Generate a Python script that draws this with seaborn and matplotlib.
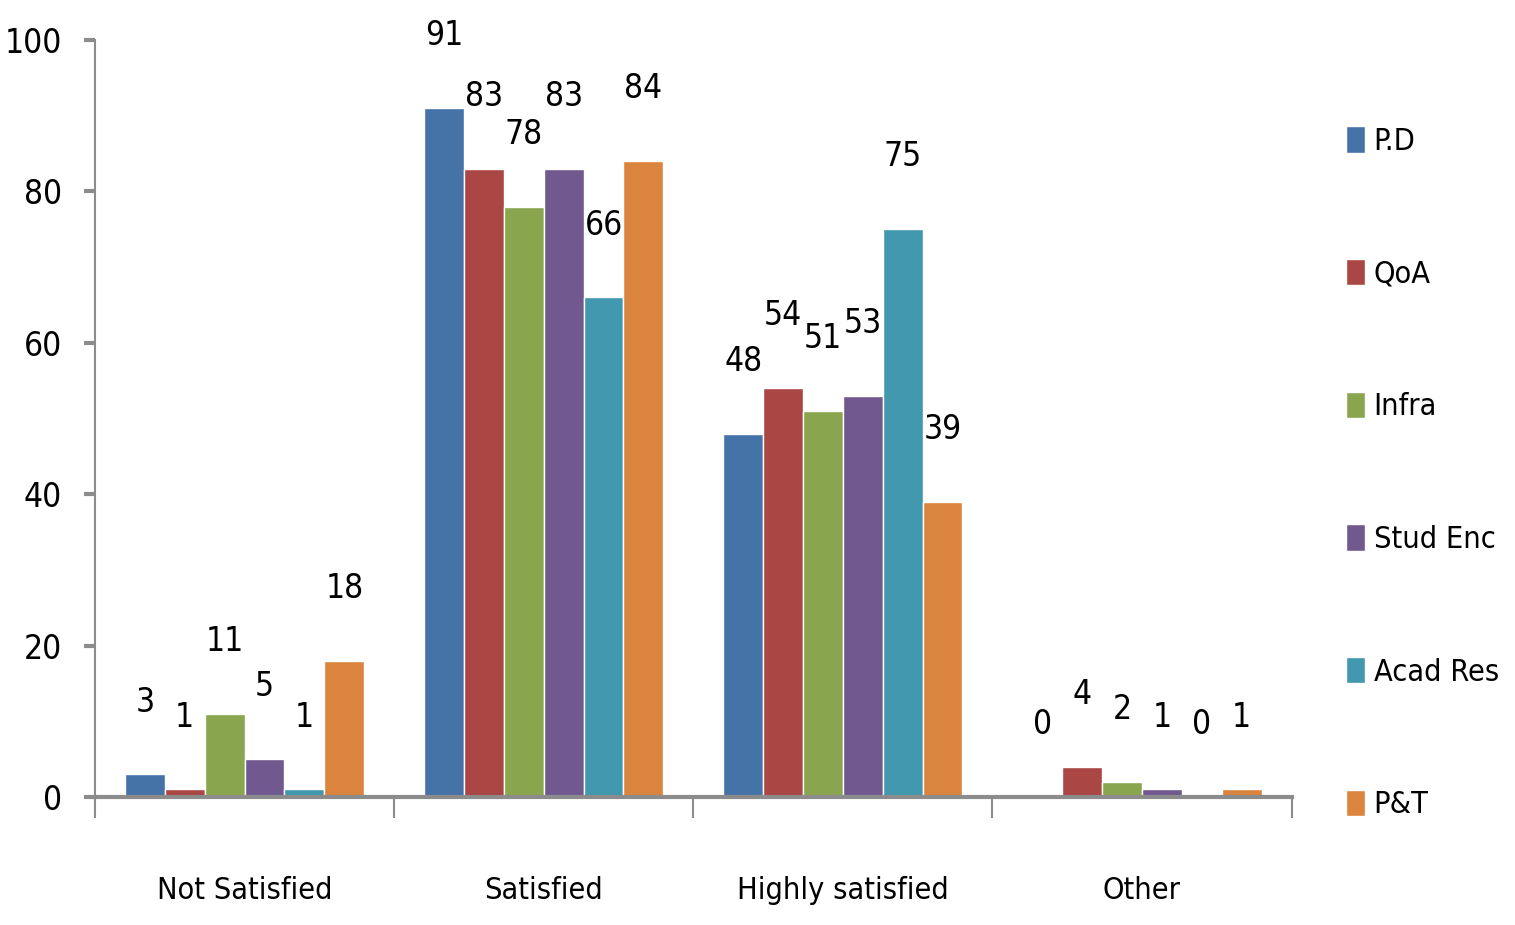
import matplotlib
matplotlib.use("Agg")
import matplotlib.pyplot as plt
from matplotlib import font_manager
import pandas as pd
import seaborn as sns

# data
categories = ["Not Satisfied", "Satisfied", "Highly satisfied", "Other"]
series = ["P.D", "QoA", "Infra", "Stud Enc", "Acad Res", "P&T"]
pd_vals = [3, 91, 48, 0]
qoa_vals = [1, 83, 54, 4]
infra_vals = [11, 78, 51, 2]
stud_vals = [5, 83, 53, 1]
acad_vals = [1, 66, 75, 0]
pt_vals = [18, 84, 39, 1]
colors = ["#4572A7", "#AA4643", "#89A54E", "#71588F", "#4198AF", "#DB843D"]

rows = []
for name, vals in zip(series, [pd_vals, qoa_vals, infra_vals, stud_vals, acad_vals, pt_vals]):
    for cat, v in zip(categories, vals):
        rows.append({"category": cat, "series": name, "value": v})
df = pd.DataFrame(rows)

sns.set_theme(style="white")
installed = {f.name for f in font_manager.fontManager.ttflist}
fam = [f for f in ["Liberation Sans Narrow", "DejaVu Sans"] if f in installed]
plt.rcParams["font.family"] = fam
plt.rcParams["font.stretch"] = "condensed"
plt.rcParams["text.color"] = "black"
plt.rcParams["xtick.labelcolor"] = "black"
plt.rcParams["ytick.labelcolor"] = "black"

fig = plt.figure(figsize=(15.15, 9.25), dpi=100)
ax = fig.add_axes([0.0627, 0.1384, 0.7898, 0.8184])

sns.barplot(data=df, x="category", y="value", hue="series", order=categories,
            hue_order=series, palette=colors, saturation=1, width=0.8,
            edgecolor="white", linewidth=1, ax=ax)

# value labels above bars
for cont in ax.containers:
    for bar in cont:
        h = bar.get_height()
        ax.annotate(f"{h:.0f}", (bar.get_x() + bar.get_width() / 2, h),
                    xytext=(0, 52), textcoords="offset points",
                    ha="center", va="center", fontsize=24, color="black")

ax.set_ylim(0, 100)
ax.set_xlim(-0.5, 3.5)
ax.set_yticks([0, 20, 40, 60, 80, 100])
ax.set_xlabel("")
ax.set_ylabel("")

for s in ["top", "right"]:
    ax.spines[s].set_visible(False)
ax.spines["left"].set_color("#8c8c8c")
ax.spines["left"].set_linewidth(1.5)
ax.spines["bottom"].set_color("#8c8c8c")
ax.spines["bottom"].set_linewidth(3)

ax.tick_params(axis="y", which="major", left=True, length=8, width=3,
               color="#8c8c8c", pad=16, labelsize=24)
ax.set_xticks([-0.5, 0.5, 1.5, 2.5, 3.5], minor=True)
ax.tick_params(axis="x", which="minor", bottom=True, length=15, width=1.5,
               color="#8c8c8c")
ax.tick_params(axis="x", which="major", bottom=False, length=0, pad=57,
               labelsize=22)

leg = ax.legend(loc="upper left", bbox_to_anchor=(1.035, 0.902), frameon=False,
                fontsize=22, handlelength=0.62, handleheight=0.95,
                handletextpad=0.3, labelspacing=3.37, borderaxespad=0)

plt.savefig("out.png", dpi=100)
